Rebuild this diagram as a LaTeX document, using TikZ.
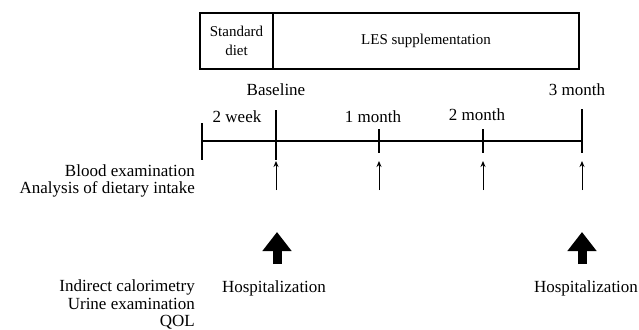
\documentclass[tikz,border=0pt]{standalone}
\usepackage{fontspec}
\setmainfont{Liberation Serif}
\usetikzlibrary{arrows.meta}

\begin{document}
\begin{tikzpicture}[x=1pt, y=-1pt]

            % Styles
            \tikzstyle{phase} = [rectangle, draw=black, line width=2.4pt, inner sep=0pt, font=\fontsize{15}{19}\selectfont, align=center]
            \tikzstyle{timetext} = [inner sep=0pt, font=\fontsize{17}{18}\selectfont]
            \tikzstyle{sidetext} = [inner sep=0pt, font=\fontsize{17}{17.5}\selectfont, align=right, anchor=east]
            \tikzstyle{axis} = [line width=2.6pt]
            \tikzstyle{tick} = [line width=2.6pt]
            \tikzstyle{obsarrow} = [line width=1pt, -{Stealth[length=6pt, width=5pt]}]
            \tikzstyle{bigarrow} = [line width=9pt, -{Triangle[length=19pt, width=28pt]}]

            \useasboundingbox (0,0) rectangle (639,329);

            % Phases
            \node (diet) [phase, minimum width=73, minimum height=56] at (236.5,41) {Standard\\diet};
            \node (les) [phase, minimum width=306, minimum height=56] at (426,41) {LES supplementation};

            % Time line
            \coordinate (t0) at (202,141);
            \coordinate (t1) at (276,141);
            \coordinate (t2) at (379,141);
            \coordinate (t3) at (483,141);
            \coordinate (t4) at (582,141);
            \draw [axis] (t0) -- (t4);
            \draw [tick] (202,123) -- (202,160);
            \draw [tick] (276,110) -- (276,160);
            \draw [tick] (379,129) -- (379,153);
            \draw [tick] (483,129) -- (483,153);
            \draw [tick] (582,109) -- (582,153);

            % Time labels
            \node (baseline) [timetext] at (276,90) {Baseline};
            \node (threemonth) [timetext] at (577,90) {3 month};
            \node (twoweek) [timetext] at (237,117) {2 week};
            \node (onemonth) [timetext] at (373,117) {1 month};
            \node (twomonth) [timetext] at (477,115) {2 month};

            % Blood examination arrows
            \coordinate (low1) at (276,190);
            \coordinate (up1) at (276,161);
            \coordinate (low2) at (379,190);
            \coordinate (up2) at (379,161);
            \coordinate (low3) at (483,190);
            \coordinate (up3) at (483,161);
            \coordinate (low4) at (582,190);
            \coordinate (up4) at (582,161);
            \draw [obsarrow] (low1) -- (up1);
            \draw [obsarrow] (low2) -- (up2);
            \draw [obsarrow] (low3) -- (up3);
            \draw [obsarrow] (low4) -- (up4);

            % Hospitalization arrows
            \coordinate (hbase1) at (277,264);
            \coordinate (htip1) at (277,232);
            \coordinate (hbase2) at (582,264);
            \coordinate (htip2) at (582,232);
            \draw [bigarrow] (hbase1) -- (htip1);
            \draw [bigarrow] (hbase2) -- (htip2);
            \node (hosp1) [timetext] at (274,288) {Hospitalization};
            \node (hosp2) [timetext] at (586,288) {Hospitalization};

            % Side labels
            \node (bloodlbl) [sidetext] at (195,181) {Blood examination\\Analysis of dietary intake};
            \node (hosplbl) [sidetext] at (195,304.5) {Indirect calorimetry\\Urine examination\\QOL};

\end{tikzpicture}
\end{document}
